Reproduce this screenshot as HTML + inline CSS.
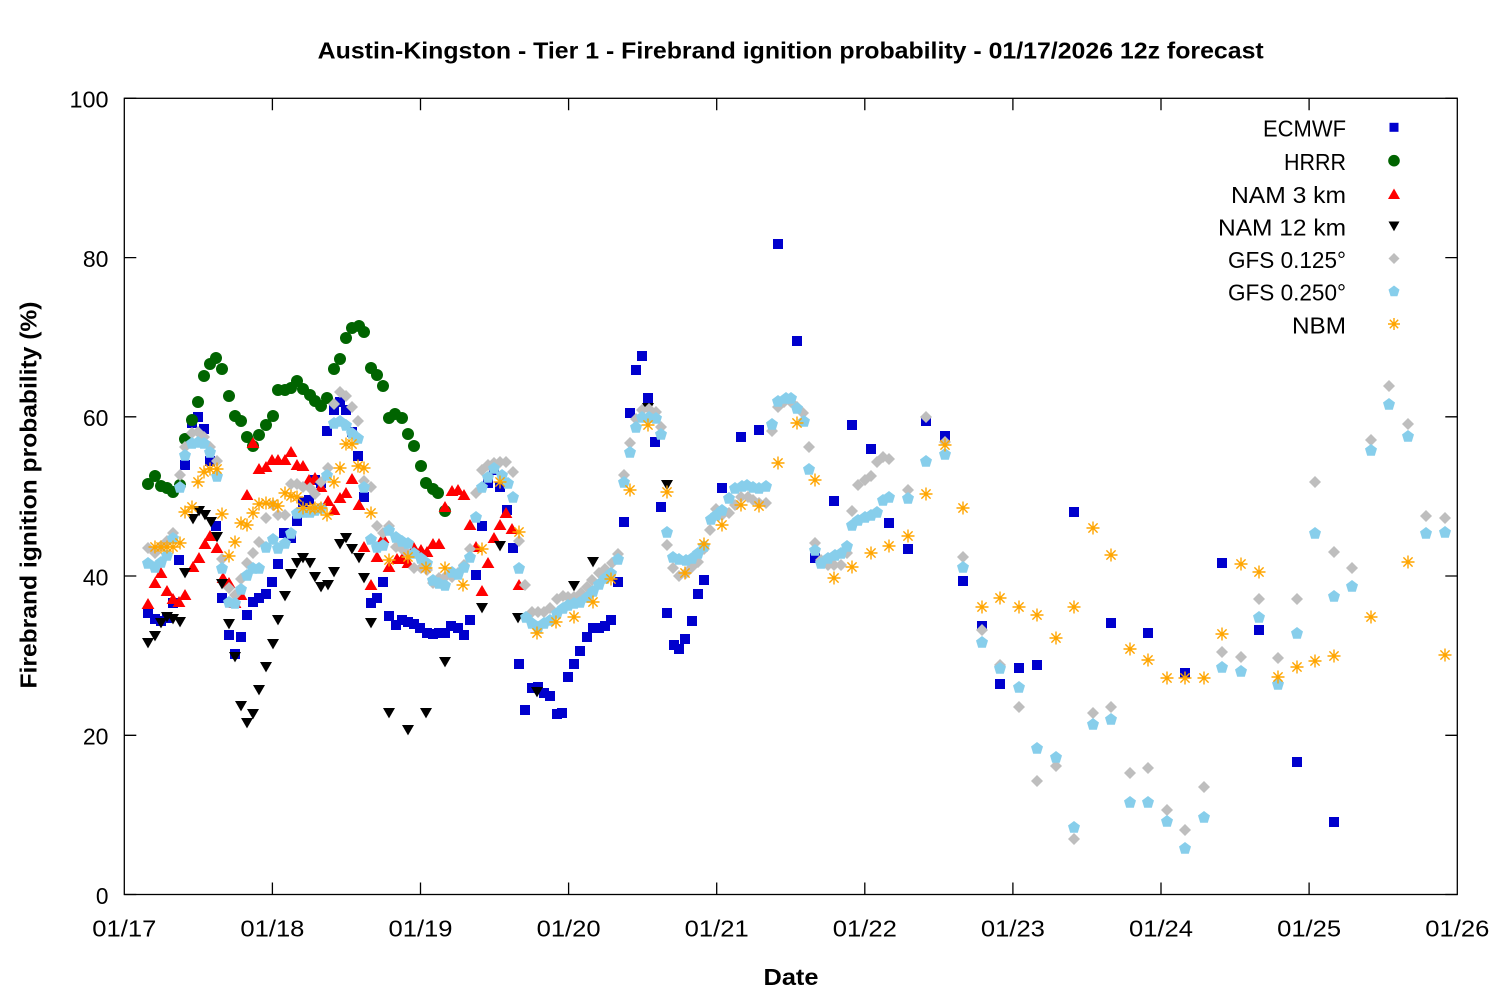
<!DOCTYPE html>
<html><head><meta charset="utf-8"><style>
html,body{margin:0;padding:0;background:#fff;}
svg{display:block;}
text{font-family:"Liberation Sans",sans-serif;fill:#000;}
</style></head><body>
<svg width="1500" height="1000" viewBox="0 0 1500 1000" xmlns="http://www.w3.org/2000/svg">
<defs>
<marker id="msq" markerWidth="12" markerHeight="12" refX="6" refY="6" markerUnits="userSpaceOnUse" overflow="visible"><rect x="1" y="1" width="10" height="10" fill="#0000cd"/></marker>
<marker id="mci" markerWidth="12" markerHeight="12" refX="6" refY="6" markerUnits="userSpaceOnUse" overflow="visible"><circle cx="6" cy="6" r="6" fill="#006400"/></marker>
<marker id="mtu" markerWidth="12" markerHeight="12" refX="6" refY="6" markerUnits="userSpaceOnUse" overflow="visible"><polygon points="6,0 12.4,11 -0.4,11" fill="#ff0000"/></marker>
<marker id="mtd" markerWidth="12" markerHeight="12" refX="6" refY="6" markerUnits="userSpaceOnUse" overflow="visible"><polygon points="0,1 12,1 6,11.4" fill="#000"/></marker>
<marker id="mdi" markerWidth="12" markerHeight="12" refX="6" refY="6" markerUnits="userSpaceOnUse" overflow="visible"><polygon points="6,0 12,6 6,12 0,6" fill="#bebebe"/></marker>
<marker id="mpe" markerWidth="12" markerHeight="12" refX="6" refY="6" markerUnits="userSpaceOnUse" overflow="visible"><polygon points="6,0 12,4.5 9.8,11.7 2.2,11.7 0,4.5" fill="#87ceeb"/></marker>
<marker id="mas" markerWidth="12" markerHeight="12" refX="6" refY="6" markerUnits="userSpaceOnUse" overflow="visible"><path d="M6,-0.5 V12.5 M-0.5,6 H12.5 M1.4,1.4 L10.6,10.6 M10.6,1.4 L1.4,10.6" stroke="#ffa500" stroke-width="1.4" fill="none"/></marker>
</defs>

<!-- Title -->
<text x="790.7" y="58.3" font-size="23" font-weight="bold" text-anchor="middle" textLength="946" lengthAdjust="spacingAndGlyphs">Austin-Kingston - Tier 1 - Firebrand ignition probability - 01/17/2026 12z forecast</text>

<!-- Axis labels -->
<text transform="translate(36.5,495) rotate(-90)" font-size="23" font-weight="bold" text-anchor="middle" textLength="387" lengthAdjust="spacingAndGlyphs">Firebrand ignition probability (%)</text>
<text x="791" y="985" font-size="23" font-weight="bold" text-anchor="middle" textLength="55" lengthAdjust="spacingAndGlyphs">Date</text>

<!-- Frame -->
<rect x="124.3" y="98.3" width="1333" height="796.2" fill="none" stroke="#000" stroke-width="1.3"/>

<!-- Y ticks -->
<g stroke="#000" stroke-width="1.3">
<path d="M124.3,894.5 h12 M1457.3,894.5 h-12"/>
<path d="M124.3,735.3 h12 M1457.3,735.3 h-12"/>
<path d="M124.3,576.0 h12 M1457.3,576.0 h-12"/>
<path d="M124.3,416.8 h12 M1457.3,416.8 h-12"/>
<path d="M124.3,257.6 h12 M1457.3,257.6 h-12"/>
<path d="M124.3,98.3 h12 M1457.3,98.3 h-12"/>
</g>
<g font-size="23" text-anchor="end">
<text x="108.5" y="903.9" textLength="12.6" lengthAdjust="spacingAndGlyphs">0</text>
<text x="108.5" y="744.7" textLength="25.6" lengthAdjust="spacingAndGlyphs">20</text>
<text x="108.5" y="585.4" textLength="25.6" lengthAdjust="spacingAndGlyphs">40</text>
<text x="108.5" y="426.2" textLength="25.6" lengthAdjust="spacingAndGlyphs">60</text>
<text x="108.5" y="267.0" textLength="25.6" lengthAdjust="spacingAndGlyphs">80</text>
<text x="108.5" y="107.7" textLength="39" lengthAdjust="spacingAndGlyphs">100</text>
</g>

<!-- X ticks -->
<g stroke="#000" stroke-width="1.3">
<path d="M272.4,894.5 v-12 M272.4,98.3 v12"/>
<path d="M420.5,894.5 v-12 M420.5,98.3 v12"/>
<path d="M568.6,894.5 v-12 M568.6,98.3 v12"/>
<path d="M716.7,894.5 v-12 M716.7,98.3 v12"/>
<path d="M864.8,894.5 v-12 M864.8,98.3 v12"/>
<path d="M1012.9,894.5 v-12 M1012.9,98.3 v12"/>
<path d="M1161.0,894.5 v-12 M1161.0,98.3 v12"/>
<path d="M1309.1,894.5 v-12 M1309.1,98.3 v12"/>
</g>
<g font-size="23" text-anchor="middle">
<text x="124.3" y="936.7" textLength="64" lengthAdjust="spacingAndGlyphs">01/17</text>
<text x="272.4" y="936.7" textLength="64" lengthAdjust="spacingAndGlyphs">01/18</text>
<text x="420.5" y="936.7" textLength="64" lengthAdjust="spacingAndGlyphs">01/19</text>
<text x="568.6" y="936.7" textLength="64" lengthAdjust="spacingAndGlyphs">01/20</text>
<text x="716.7" y="936.7" textLength="64" lengthAdjust="spacingAndGlyphs">01/21</text>
<text x="864.8" y="936.7" textLength="64" lengthAdjust="spacingAndGlyphs">01/22</text>
<text x="1012.9" y="936.7" textLength="64" lengthAdjust="spacingAndGlyphs">01/23</text>
<text x="1161.0" y="936.7" textLength="64" lengthAdjust="spacingAndGlyphs">01/24</text>
<text x="1309.1" y="936.7" textLength="64" lengthAdjust="spacingAndGlyphs">01/25</text>
<text x="1457.3" y="936.7" textLength="64" lengthAdjust="spacingAndGlyphs">01/26</text>
</g>

<!-- Series -->
<g fill="none" stroke="none">
<!-- ECMWF -->
<path marker-start="url(#msq)" marker-mid="url(#msq)" marker-end="url(#msq)" d="M148,613 L155,619 161,621 167,618 173,603 179,560 185,465 192,423 198,417 204,429 210,461 216,526 222,598 229,635 235,654 241,637 247,615 253,602 259,598 266,594 272,582 278,564 284,533 291,538 297,521 303,502 309,500 315,480 321,483 327,431 334,410 340,402 346,410 352,432 358,456 364,497 371,603 377,598 383,582 389,616 396,625 402,620 408,622 414,624 420,628 427,633 433,634 439,633 445,633 451,626 458,628 464,635 470,620 476,575 482,526 488,483 494,470 500,487 507,510 513,548 519,664 525,710 532,688 538,687 544,693 550,696 557,714 562,713 568,677 574,664 580,651 587,637 593,628 599,628 605,626 611,620 618,582 624,522 630,413 636,370 642,356 648,398 655,442 661,507 667,613 674,645 679,649 685,639 692,621 698,594 704,580 722,488 741,437 759,430 778,244 797,341 815,558 834,501 852,425 871,449 889,523 908,549 926,421 945,436 963,581 982,626 1000,684 1019,668 1037,665 1074,512 1111,623 1148,633 1185,673 1222,563 1259,630 1297,762 1334,822"/>
<!-- HRRR -->
<path marker-start="url(#mci)" marker-mid="url(#mci)" marker-end="url(#mci)" d="M148,484 L155,476 161,486 167,488 173,492 180,485 185,439 192,420 198,402 204,376 210,364 216,358 222,369 229,396 235,416 241,421 247,437 253,446 259,435 266,425 273,416 278,390 285,390 291,388 297,381 303,389 310,395 315,401 321,406 327,398 334,369 340,359 346,338 352,328 359,326 364,332 371,368 377,375 383,386 389,418 395,414 402,418 408,434 414,446 421,466 426,483 433,489 438,493 445,511"/>
<!-- NAM 3 km -->
<path marker-start="url(#mtu)" marker-mid="url(#mtu)" marker-end="url(#mtu)" d="M148,604 L155,583 161,573 167,591 173,599 179,602 185,595 193,567 199,558 205,544 210,536 217,548 223,578 229,583 235,603 241,595 247,495 253,443 259,469 266,467 272,460 278,460 285,460 291,452 297,465 303,466 309,480 315,478 321,487 328,501 334,510 340,498 346,493 352,479 359,505 364,547 371,585 377,557 383,538 389,567 397,559 402,559 408,563 414,548 421,550 427,552 433,544 439,544 445,507 452,491 458,490 464,495 470,525 476,547 482,591 488,563 494,538 500,525 506,513 512,529 519,585"/>
<!-- NAM 12 km -->
<path marker-start="url(#mtd)" marker-mid="url(#mtd)" marker-end="url(#mtd)" d="M148,643 L155,636 161,623 167,617 173,619 180,622 185,573 193,519 199,511 205,515 211,522 217,537 222,584 229,624 235,657 241,706 247,723 253,714 259,690 266,667 273,644 278,620 285,596 291,574 297,563 303,558 310,563 315,577 321,587 328,585 334,572 340,544 346,538 352,549 359,558 364,578 371,623 389,713 408,730 426,713 445,662 482,608 500,546 518,618 537,692 574,586 593,562 648,408 667,485"/>
<!-- GFS 0.125 -->
<path marker-start="url(#mdi)" marker-mid="url(#mdi)" marker-end="url(#mdi)" d="M148,548 L155,553 161,546 167,541 173,533 180,475 185,447 192,433 198,432 204,437 210,447 217,461 222,559 229,588 235,595 241,579 247,563 253,553 259,542 266,518 273,505 278,515 285,515 291,484 297,484 303,487 310,488 315,494 321,482 328,468 334,404 340,392 346,396 352,407 358,421 364,481 371,487 377,526 383,533 389,526 396,547 402,549 408,554 414,568 421,568 427,570 433,583 439,578 445,577 452,577 458,573 464,565 470,549 476,493 482,470 488,465 494,463 500,462 506,462 513,472 519,541 525,585 532,612 538,612 544,612 550,608 557,599 563,596 568,597 574,597 581,593 587,587 592,580 599,573 605,569 612,563 618,554 624,475 630,443 636,419 642,410 649,409 656,412 661,427 667,545 673,568 679,576 686,573 692,567 698,562 704,549 710,530 716,509 722,515 729,513 735,505 741,497 748,497 753,500 759,503 766,503 772,431 778,407 784,402 791,402 797,407 803,413 809,447 815,543 821,560 828,565 834,565 841,565 847,553 852,511 858,485 865,480 871,476 877,462 883,457 889,459 908,490 926,417 945,442 963,557 982,630 1000,665 1019,707 1037,781 1056,766 1074,839 1093,713 1111,707 1130,773 1148,768 1167,810 1185,830 1204,787 1222,652 1241,657 1259,599 1278,658 1297,599 1315,482 1334,552 1352,568 1371,440 1389,386 1408,424 1426,516 1445,518"/>
<!-- GFS 0.250 -->
<path marker-start="url(#mpe)" marker-mid="url(#mpe)" marker-end="url(#mpe)" d="M148,563 L155,567 161,562 167,555 173,538 180,487 185,455 192,443 198,442 204,443 210,452 217,476 222,568 229,602 235,603 241,589 247,575 253,568 259,568 266,547 273,539 278,548 285,543 291,533 297,513 303,512 310,512 315,510 321,508 327,475 334,423 340,421 346,425 352,433 358,438 364,487 371,539 377,547 383,545 389,530 396,537 402,541 408,543 414,553 421,558 427,563 433,580 439,583 445,585 452,572 458,574 464,567 470,557 476,517 482,487 488,477 494,468 502,475 508,483 513,497 519,568 526,617 532,623 538,627 544,623 550,620 557,613 563,608 568,605 574,603 580,602 587,597 593,591 599,584 605,578 611,573 618,559 624,482 630,452 636,427 642,417 649,417 656,418 661,434 667,532 673,557 679,559 686,560 692,558 698,553 704,546 711,519 716,515 722,510 729,498 735,488 742,486 747,485 753,487 759,488 766,486 772,424 778,401 786,398 791,398 797,408 804,421 809,469 815,550 821,563 828,558 835,555 841,553 847,546 852,525 858,520 865,517 871,515 877,512 883,500 889,497 908,498 926,461 945,454 963,567 982,642 1000,668 1019,687 1037,748 1056,757 1074,827 1093,724 1111,719 1130,802 1148,802 1167,821 1185,848 1204,817 1222,667 1241,671 1259,617 1278,684 1297,633 1315,533 1334,596 1352,586 1371,450 1389,404 1408,436 1426,533 1445,532"/>
<!-- NBM -->
<path marker-start="url(#mas)" marker-mid="url(#mas)" marker-end="url(#mas)" d="M155,547 L161,547 167,547 173,547 180,543 185,512 192,507 198,482 204,472 210,469 217,469 222,514 229,556 235,542 241,523 247,525 253,513 259,504 266,503 273,504 278,506 285,493 291,496 297,497 303,508 310,508 315,508 321,508 327,515 334,482 340,468 346,444 352,444 358,466 364,468 371,513 389,560 408,557 426,568 445,568 463,585 482,549 500,482 519,532 537,633 556,622 574,617 593,602 611,579 630,490 648,425 667,492 685,573 704,544 722,525 741,505 759,506 778,463 797,423 815,480 834,578 852,567 871,553 889,546 908,536 926,494 945,445 963,508 982,607 1000,598 1019,607 1037,615 1056,638 1074,607 1093,528 1111,555 1130,649 1148,660 1167,678 1185,678 1204,678 1222,634 1241,564 1259,572 1278,677 1297,667 1315,661 1334,656 1371,617 1408,562 1445,655"/>
</g>

<!-- Legend -->
<g font-size="23" text-anchor="end">
<text x="1346" y="136.7" textLength="83" lengthAdjust="spacingAndGlyphs">ECMWF</text>
<text x="1346" y="170.0" textLength="62" lengthAdjust="spacingAndGlyphs">HRRR</text>
<text x="1346" y="203.0" textLength="115" lengthAdjust="spacingAndGlyphs">NAM 3 km</text>
<text x="1346" y="235.7" textLength="128" lengthAdjust="spacingAndGlyphs">NAM 12 km</text>
<text x="1346" y="268.0" textLength="118" lengthAdjust="spacingAndGlyphs">GFS 0.125°</text>
<text x="1346" y="300.3" textLength="118" lengthAdjust="spacingAndGlyphs">GFS 0.250°</text>
<text x="1346" y="333.4" textLength="54" lengthAdjust="spacingAndGlyphs">NBM</text>
</g>
<rect x="1389.5" y="122.8" width="9" height="9" fill="#0000cd"/>
<circle cx="1394" cy="160.7" r="5.8" fill="#006400"/>
<polygon points="1394,188.5 1400,199 1388,199" fill="#ff0000"/>
<polygon points="1388.5,221.5 1399.5,221.5 1394,231.3" fill="#000"/>
<polygon points="1394,253 1399.5,258.5 1394,264 1388.5,258.5" fill="#bebebe"/>
<polygon points="1394,285.5 1399.5,289.6 1397.4,296.3 1390.6,296.3 1388.5,289.6" fill="#87ceeb"/>
<path d="M1394,318 V330 M1388,324 H1400 M1389.8,319.8 L1398.2,328.2 M1398.2,319.8 L1389.8,328.2" stroke="#ffa500" stroke-width="1.4" fill="none"/>
</svg>
</body></html>
